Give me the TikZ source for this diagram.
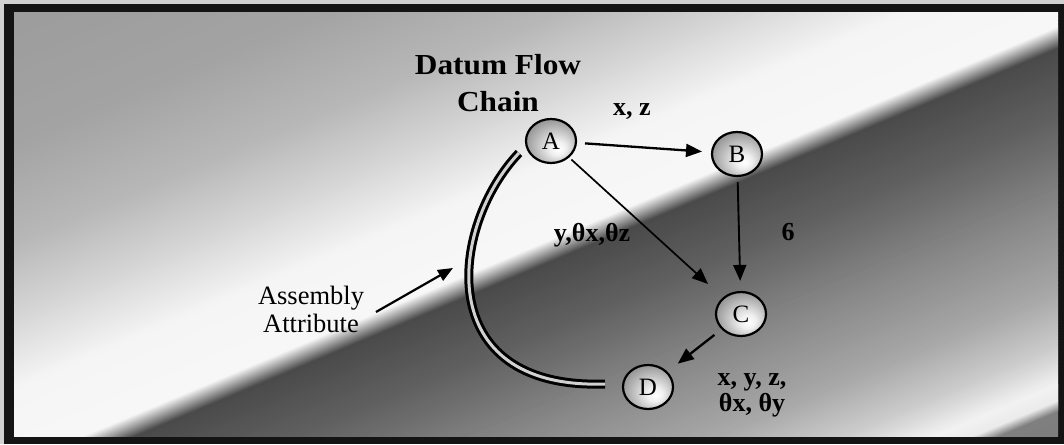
\documentclass[tikz,border=0pt]{standalone}
\usepackage{fontspec}
\setmainfont{Liberation Serif}
\usetikzlibrary{shapes.geometric,arrows.meta}
\pgfdeclareradialshading{ballshade}{\pgfpoint{8bp}{-10bp}}{color(0bp)=(white); color(8bp)=(white!94!black); color(30bp)=(white!58!black); color(50bp)=(white!38!black)}
\begin{document}
\begin{tikzpicture}[x=1pt,y=1pt,
  dnode/.style={ellipse, draw=black, line width=2.2pt, minimum width=50pt, minimum height=44pt, inner sep=0pt, shade, shading=ballshade, font=\fontsize{25}{25}\selectfont},
  lbl/.style={anchor=base, font=\fontsize{26}{26}\selectfont\bfseries, inner sep=0pt},
  ttl/.style={anchor=base, font=\fontsize{29}{29}\selectfont\bfseries, inner sep=0pt},
  att/.style={anchor=base, font=\fontsize{26.5}{26.5}\selectfont, inner sep=0pt},
  flow/.style={line width=2pt, -{Triangle[length=16pt,width=13pt]}},
  dbl/.style={line width=3pt, double=white!82!black, double distance=3pt}
]
\useasboundingbox (0,0) rectangle (1064,444);
% frame
\fill[white!82!black] (0,0) rectangle (1064,444);
\fill[black!92] (4,0) rectangle (1064,440);
% background
\begin{scope}
\clip (14,8) rectangle (1058,431);
\begin{scope}[shift={(85,3)}, rotate=22.8]
\foreach \va/\vb/\ga/\gb in {-520/-350/44/50, -350/-340/50/92, -340/-325/92/95, -325/-290/95/80, -290/-240/80/66, -240/-160/66/53, -160/-80/53/38, -80/-15/38/29, -15/5/29/97, 5/75/97/96, 75/140/96/84, 140/210/84/72, 210/300/72/64, 300/520/64/59}{
  \foreach \i in {0,...,19}{
    \pgfmathsetmacro\ya{\va+(\vb-\va)*\i/20}
    \pgfmathsetmacro\yb{\va+(\vb-\va)*(\i+1)/20+0.8}
    \pgfmathsetmacro\g{\ga+(\gb-\ga)*(\i+0.5)/20}
    \fill[white!\g!black] (-700,\ya) rectangle (1700,\yb);
  }
}
\end{scope}
\end{scope}
% title
\node[ttl] (t1) at (498,369) {\scalebox{1.08}[1]{Datum Flow}};
\node[ttl] (t2) at (498,332) {\scalebox{1.08}[1]{Chain}};
% nodes
\node[dnode] (A) at (551,303) {A};
\node[dnode] (B) at (737,290) {B};
\node[dnode] (C) at (741,130) {C};
\node[dnode] (D) at (648,57) {D};
% assembly attribute arc
\coordinate (arcS) at (519,291);
\coordinate (arcE) at (605,60);
\draw[dbl] (arcS) .. controls (450,219) and (430,54) .. (arcE);
% connectors
\draw[flow, line width=2.3pt, shorten <=8pt, shorten >=9pt] (A) -- (B);
\draw[flow, line width=1.7pt, shorten <=3pt, shorten >=20pt] (A) -- (C);
\draw[flow, line width=1.9pt, shorten <=5pt, shorten >=10pt] (B) -- (C);
\draw[flow, line width=2.3pt, shorten <=9pt, shorten >=13pt] (C) -- (D);
% labels
\node[lbl] (lxz) at (632,328) {x, z};
\node[lbl] (lyt) at (592,202) {y,θx,θz};
\node[lbl] (l6) at (788,203) {6};
\node[lbl] (lxyz) at (752,58) {x, y, z,};
\node[lbl] (ltt) at (752,33) {θx, θy};
% assembly attribute
\node[att] (asm1) at (311,139) {Assembly};
\node[att] (asm2) at (311,111) {Attribute};
\coordinate (asmS) at (376,132);
\coordinate (asmT) at (453,176);
\draw[line width=2.2pt, -{Triangle[length=15pt,width=12pt]}] (asmS) -- (asmT);
\end{tikzpicture}
\end{document}
